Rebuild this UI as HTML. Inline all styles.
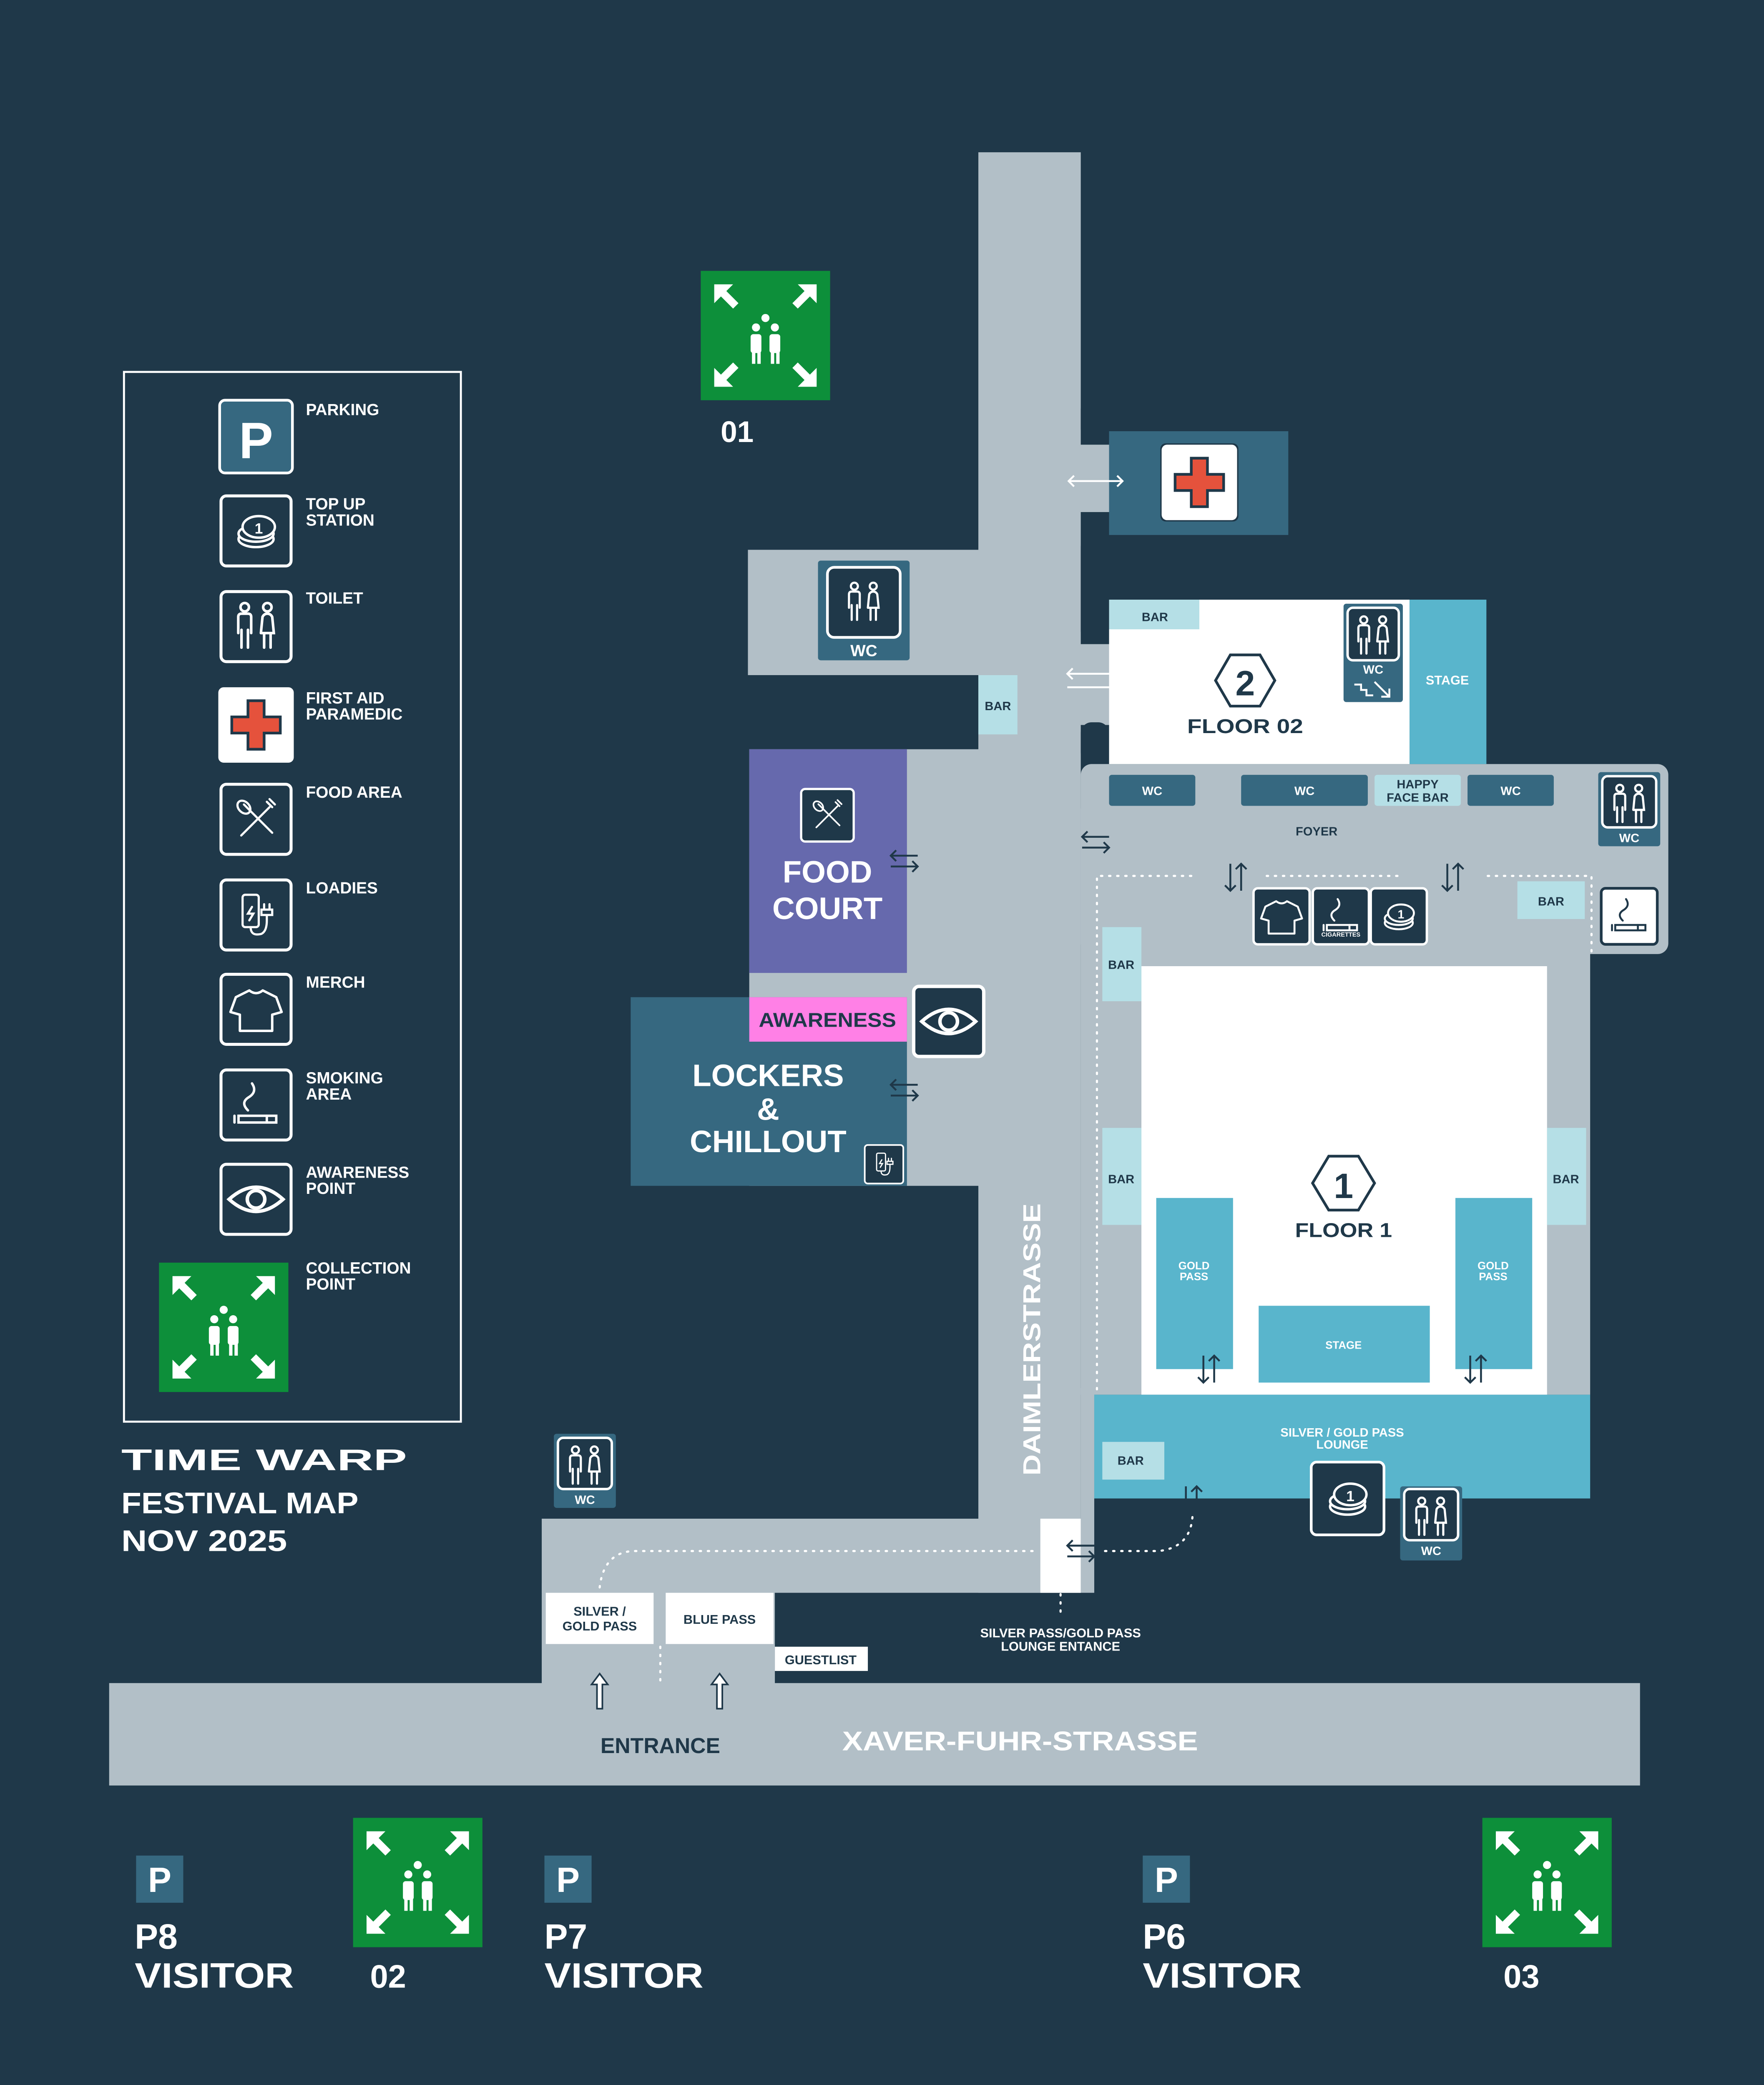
<!DOCTYPE html>
<html><head><meta charset="utf-8"><style>
html,body{margin:0;padding:0;background:#1f3849;width:4230px;height:5068px;overflow:hidden;}
svg{display:block;position:absolute;left:0;top:0;width:4230px;height:5068px}
text{font-family:"Liberation Sans","DejaVu Sans",sans-serif;font-weight:bold;}
</style></head><body>
<svg width="4230" height="5068" viewBox="0 0 1309 1568.3" preserveAspectRatio="none" xmlns="http://www.w3.org/2000/svg">
<defs>
<g id="wcfig" fill="none" stroke="#fff" stroke-width="1.6" stroke-linecap="round">
  <circle cx="-7" cy="-12" r="2.6"/><circle cx="7" cy="-12" r="2.6"/>
  <path d="M-11 4 V-6 Q-11 -8 -9 -8 H-5 Q-3 -8 -3 -6 V4 M-9 2 V13 M-5 2 V13"/>
  <path d="M3 4 L4 -6 Q5 -8 7 -8 Q9 -8 10 -6 L11 4 H3 M5 4 V13 M9 4 V13"/>
</g>
<g id="coin" fill="none" stroke="#fff" stroke-width="1.8">
  <ellipse cx="0" cy="6" rx="13" ry="6"/><ellipse cx="0" cy="2" rx="13" ry="6" fill="#1f3849"/><ellipse cx="2" cy="-3" rx="12" ry="8" fill="#1f3849"/>
  <text x="2" y="2" font-size="11" fill="#fff" stroke="none" text-anchor="middle">1</text>
</g>
<g id="shirt" fill="none" stroke="#fff" stroke-width="1.8" stroke-linejoin="round">
  <path d="M-5 -14 Q0 -10 5 -14 L15 -9 L19 2 L12 4 V16 H-12 V4 L-19 2 L-15 -9 Z"/>
</g>
<g id="smoke" fill="none" stroke="#fff" stroke-width="1.8" stroke-linecap="round">
  <path d="M-6 4 Q-12 -2 -5 -6 Q1 -10 -3 -16"/>
  <rect x="-13" y="8" width="28" height="5"/><line x1="-16" y1="8" x2="-16" y2="13"/><line x1="8" y1="8" x2="8" y2="13"/>
</g>
<g id="smokeD" fill="none" stroke="#1f3849" stroke-width="1.8" stroke-linecap="round">
  <path d="M-6 4 Q-12 -2 -5 -6 Q1 -10 -3 -16"/>
  <rect x="-13" y="8" width="28" height="5"/><line x1="-16" y1="8" x2="-16" y2="13"/><line x1="8" y1="8" x2="8" y2="13"/>
</g>
<g id="eye" fill="none" stroke="#fff" stroke-width="2.6">
  <path d="M-20 0 Q0 -18 20 0 Q0 18 -20 0Z"/><circle cx="0" cy="0" r="6.5"/>
</g>
<g id="cutlery" fill="none" stroke="#fff" stroke-width="1.6" stroke-linecap="round">
  <path d="M-11 12 L10 -9 M-9 -11 L12 10"/><ellipse cx="-9" cy="-9" rx="4" ry="5.5" transform="rotate(-45 -9 -9)"/>
  <path d="M8 -13 L12 -9 M10 -15 L14 -11"/>
</g>
<g id="charger" fill="none" stroke="#fff" stroke-width="1.6" stroke-linecap="round">
  <rect x="-10" y="-15" width="12" height="24" rx="2"/><path d="M-3 -6 L-6 -1 H-2 L-5 4"/>
  <path d="M-4 9 Q-4 16 4 14 Q8 12 8 4 V0 M4 -4 H12 V0 H4 Z M6 -4 V-8 M10 -4 V-8"/>
</g>
<g id="aid">
  <rect x="-28" y="-28" width="56" height="56" rx="4" fill="#fff"/>
  <path d="M-6 -18 H6 V-6 H18 V6 H6 V18 H-6 V6 H-18 V-6 H-6Z" fill="#e5523c" stroke="#1f3849" stroke-width="2"/>
</g>
<g id="collect">
  <rect x="-48" y="-48" width="96" height="96" fill="#0d8f3a"/>
  <g fill="#fff">
    <path d="M-38 -38 L-24 -38 L-29 -33 L-20 -24 L-24 -20 L-33 -29 L-38 -24Z"/>
    <path d="M38 -38 L24 -38 L29 -33 L20 -24 L24 -20 L33 -29 L38 -24Z"/>
    <path d="M-38 38 L-24 38 L-29 33 L-20 24 L-24 20 L-33 29 L-38 24Z"/>
    <path d="M38 38 L24 38 L29 33 L20 24 L24 20 L33 29 L38 24Z"/>
    <circle cx="0" cy="-13" r="3"/><circle cx="-7" cy="-6" r="3"/><circle cx="7" cy="-6" r="3"/>
    <rect x="-11" y="-1" width="8" height="14" rx="2"/><rect x="3" y="-1" width="8" height="14" rx="2"/>
    <rect x="-10" y="12" width="2.5" height="9"/><rect x="-6" y="12" width="2.5" height="9"/>
    <rect x="4" y="12" width="2.5" height="9"/><rect x="8" y="12" width="2.5" height="9"/>
  </g>
</g>
<g id="box"><rect x="-26" y="-26" width="52" height="52" rx="4" fill="#1f3849" stroke="#fff" stroke-width="2.2"/></g>
<g id="lrarrD" fill="none" stroke="#1f3849" stroke-width="1.4"><path d="M-10 -4 H10 M-6 -8 L-10 -4 L-6 0 M-10 4 H10 M6 0 L10 4 L6 8"/></g>
<g id="udarr" fill="none" stroke="#1f3849" stroke-width="1.4"><path d="M-4 -10 V10 M-8 6 L-4 10 L0 6 M4 10 V-10 M0 -6 L4 -10 L8 -6"/></g>
</defs>

<rect width="1309" height="1568.3" fill="#1f3849"/>

<g fill="#b2bfc7">
  <rect x="726" y="113" width="76" height="1069"/>
  <rect x="555" y="408" width="175" height="93"/>
  <rect x="556" y="556" width="173" height="324" />
  <rect x="402" y="1127" width="400" height="55"/>
  <rect x="402" y="1175" width="173" height="80"/>
  <rect x="81" y="1249" width="1136" height="76"/>
  <rect x="800" y="330" width="25" height="50"/>
  <rect x="800" y="478" width="25" height="60"/>
  <rect x="802" y="567" width="436" height="141" rx="8"/>
  <rect x="802" y="600" width="378" height="435"/>
  <rect x="802" y="1030" width="10" height="152"/>
</g>
<g fill="#1f3849">
  <rect x="802" y="398" width="21" height="78" rx="8"/>
  <rect x="802" y="536" width="21" height="30" rx="8"/>
  <rect x="802" y="296" width="21" height="30" rx="8"/>
</g>
<rect x="607" y="416" width="68" height="74" rx="2" fill="#366880"/>
<rect x="614" y="421" width="54" height="52" rx="5" fill="#1f3849" stroke="#fff" stroke-width="2"/>
<use href="#wcfig" x="641" y="447"/>
<text x="641" y="487" font-size="12" fill="#fff" text-anchor="middle">WC</text>

<rect x="726" y="501" width="29" height="44" fill="#b5dfe6"/>
<text x="740.5" y="527" font-size="9" fill="#1f3849" text-anchor="middle">BAR</text>

<rect x="823" y="320" width="133" height="77" fill="#366880"/>
<rect x="861" y="329" width="58" height="58" rx="4" fill="#1f3849"/>
<use href="#aid" x="890" y="358"/>
<path d="M793 357 H833 M797 353 L793 357 L797 361 M829 353 L833 357 L829 361" stroke="#fff" stroke-width="1.4" fill="none"/>

<rect x="823" y="445" width="223" height="122" fill="#fff"/>
<rect x="1046" y="445" width="57" height="122" fill="#59b5cc"/>
<rect x="823" y="445" width="67" height="22" fill="#b5dfe6"/>
<text x="857" y="461" font-size="9" fill="#1f3849" text-anchor="middle">BAR</text>
<text x="1074" y="508" font-size="9.5" fill="#fff" text-anchor="middle">STAGE</text>
<polygon points="913,486 935,486 946,505 935,524 913,524 902,505" fill="none" stroke="#1f3849" stroke-width="2"/>
<text x="924" y="516" font-size="26" fill="#1f3849" text-anchor="middle">2</text>
<text x="924" y="544" font-size="15" fill="#1f3849" text-anchor="middle" textLength="86" lengthAdjust="spacingAndGlyphs">FLOOR 02</text>
<rect x="997" y="448" width="44" height="73" rx="2" fill="#366880"/>
<rect x="1000" y="451" width="38" height="39" rx="4" fill="#1f3849" stroke="#fff" stroke-width="1.8"/>
<use href="#wcfig" x="1019" y="472"/>
<text x="1019" y="500" font-size="9" fill="#fff" text-anchor="middle">WC</text>
<path d="M1005 508 H1010 V512 H1014 V516 H1019 M1020 506 L1031 517 M1025 517 H1031 V511" stroke="#fff" stroke-width="1.4" fill="none"/>
<path d="M792 500 H832 M792 510 H832 M828 506 L832 510 L828 514 M796 496 L792 500 L796 504" stroke="#fff" stroke-width="1.4" fill="none"/>

<g font-size="9" text-anchor="middle">
<rect x="823" y="575" width="64" height="23" rx="2" fill="#366880"/><text x="855" y="590" fill="#fff">WC</text>
<rect x="921" y="575" width="94" height="23" rx="2" fill="#366880"/><text x="968" y="590" fill="#fff">WC</text>
<rect x="1020" y="575" width="64" height="23" rx="2" fill="#b5dfe6"/><text x="1052" y="585" fill="#1f3849">HAPPY</text><text x="1052" y="595" fill="#1f3849">FACE BAR</text>
<rect x="1089" y="575" width="64" height="23" rx="2" fill="#366880"/><text x="1121" y="590" fill="#fff">WC</text>
<text x="977" y="620" fill="#1f3849">FOYER</text>
</g>
<rect x="1186" y="573" width="46" height="55" rx="2" fill="#366880"/>
<rect x="1189" y="576" width="40" height="38" rx="4" fill="#1f3849" stroke="#fff" stroke-width="1.8"/>
<use href="#wcfig" x="1209" y="597"/>
<text x="1209" y="625" font-size="9" fill="#fff" text-anchor="middle">WC</text>
<use href="#lrarrD" x="813" y="625"/>
<use href="#udarr" x="917" y="651"/>
<use href="#udarr" x="1078" y="651"/>
<g stroke="#fff" stroke-width="1.6" stroke-dasharray="1 5" stroke-linecap="round" fill="none">
  <path d="M884 650 H814 V1035"/>
  <path d="M940 650 H1040"/>
  <path d="M1104 650 H1181 V708"/>
  <path d="M445 1178 Q448 1152 470 1151 H770"/>
  <path d="M820 1151 H860 Q885 1148 885 1122"/>
  <path d="M787 1183 V1200"/>
  <path d="M490 1222 V1248"/>
</g>
<g transform="translate(951,680) scale(0.8)"><use href="#box"/><use href="#shirt"/></g>
<g transform="translate(995,680) scale(0.8)"><use href="#box"/><use href="#smoke"/></g>
<text x="995" y="695" font-size="4.5" fill="#fff" text-anchor="middle">CIGARETTES</text>
<g transform="translate(1038,680) scale(0.8)"><use href="#box"/><use href="#coin"/></g>
<rect x="1126" y="654" width="50" height="28" fill="#b5dfe6"/>
<text x="1151" y="672" font-size="9" fill="#1f3849" text-anchor="middle">BAR</text>
<g transform="translate(1209,680) scale(0.8)"><rect x="-26" y="-26" width="52" height="52" rx="4" fill="#fff" stroke="#1f3849" stroke-width="2.5"/><use href="#smokeD"/></g>

<rect x="847" y="717" width="301" height="318" fill="#fff"/>
<g font-size="9" text-anchor="middle" fill="#1f3849">
<rect x="818" y="688" width="29" height="55" fill="#b5dfe6"/><text x="832" y="719">BAR</text>
<rect x="818" y="837" width="29" height="72" fill="#b5dfe6"/><text x="832" y="878">BAR</text>
<rect x="1148" y="837" width="29" height="72" fill="#b5dfe6"/><text x="1162" y="878">BAR</text>
</g>
<rect x="858" y="889" width="57" height="127" fill="#59b5cc"/>
<rect x="1080" y="889" width="57" height="127" fill="#59b5cc"/>
<rect x="934" y="969" width="127" height="57" fill="#59b5cc"/>
<g font-size="8" fill="#fff" text-anchor="middle">
<text x="886" y="942">GOLD</text><text x="886" y="950">PASS</text>
<text x="1108" y="942">GOLD</text><text x="1108" y="950">PASS</text>
<text x="997" y="1001">STAGE</text>
</g>
<use href="#udarr" x="897" y="1016"/>
<use href="#udarr" x="1095" y="1016"/>
<polygon points="986,858 1008,858 1020,878 1008,898 986,898 974,878" fill="none" stroke="#1f3849" stroke-width="2"/>
<text x="997" y="889" font-size="26" fill="#1f3849" text-anchor="middle">1</text>
<text x="997" y="918" font-size="15" fill="#1f3849" text-anchor="middle" textLength="72" lengthAdjust="spacingAndGlyphs">FLOOR 1</text>

<rect x="812" y="1035" width="368" height="77" fill="#59b5cc"/>
<rect x="818" y="1070" width="46" height="28" fill="#b5dfe6"/>
<text x="839" y="1087" font-size="9" fill="#1f3849" text-anchor="middle">BAR</text>
<text x="996" y="1066" font-size="9" fill="#fff" text-anchor="middle">SILVER  / GOLD PASS</text>
<text x="996" y="1075" font-size="9" fill="#fff" text-anchor="middle">LOUNGE</text>
<g transform="translate(1000,1112)"><rect x="-27" y="-27" width="54" height="54" rx="4" fill="#1f3849" stroke="#fff" stroke-width="2"/><use href="#coin"/></g>
<rect x="1039" y="1103" width="46" height="55" rx="2" fill="#366880"/>
<rect x="1042" y="1105" width="40" height="38" rx="4" fill="#1f3849" stroke="#fff" stroke-width="1.8"/>
<use href="#wcfig" x="1062" y="1126"/>
<text x="1062" y="1154" font-size="9" fill="#fff" text-anchor="middle">WC</text>
<use href="#udarr" x="884" y="1113"/>

<rect x="556" y="556" width="117" height="166" fill="#6669ad"/>
<g transform="translate(614,605) scale(0.75)"><use href="#box"/><use href="#cutlery"/></g>
<text x="614" y="655" font-size="23" fill="#fff" text-anchor="middle">FOOD</text>
<text x="614" y="682" font-size="23" fill="#fff" text-anchor="middle">COURT</text>
<use href="#lrarrD" x="671" y="639"/>
<rect x="468" y="740" width="205" height="140" fill="#366880"/>
<rect x="556" y="740" width="117" height="33" fill="#ff80e6"/>
<text x="614" y="762" font-size="15" fill="#1f3849" text-anchor="middle" textLength="102" lengthAdjust="spacingAndGlyphs">AWARENESS</text>
<g transform="translate(704,758)"><rect x="-26" y="-26" width="52" height="52" rx="4" fill="#1f3849" stroke="#fff" stroke-width="2.5"/><use href="#eye"/></g>
<text x="570" y="806" font-size="23" fill="#fff" text-anchor="middle">LOCKERS</text>
<text x="570" y="831" font-size="23" fill="#fff" text-anchor="middle">&amp;</text>
<text x="570" y="855" font-size="23" fill="#fff" text-anchor="middle">CHILLOUT</text>
<use href="#lrarrD" x="671" y="809"/>
<g transform="translate(656,864) scale(0.55)"><use href="#box"/><use href="#charger"/></g>
<text transform="translate(772,1095) rotate(-90)" font-size="18" fill="#fff" textLength="202" lengthAdjust="spacingAndGlyphs">DAIMLERSTRASSE</text>

<rect x="772" y="1127" width="30" height="55" fill="#fff"/>
<use href="#lrarrD" x="802" y="1151"/>
<rect x="405" y="1182" width="80" height="38" fill="#fff"/>
<rect x="494" y="1182" width="80" height="38" fill="#fff"/>
<rect x="575" y="1222" width="69" height="18" fill="#fff"/>
<g font-size="9.5" fill="#1f3849" text-anchor="middle">
<text x="445" y="1199">SILVER /</text><text x="445" y="1210">GOLD PASS</text>
<text x="534" y="1205">BLUE PASS</text>
<text x="609" y="1235">GUESTLIST</text>
</g>
<text x="787" y="1215" font-size="9.5" fill="#fff" text-anchor="middle">SILVER PASS/GOLD PASS</text>
<text x="787" y="1225" font-size="9.5" fill="#fff" text-anchor="middle">LOUNGE ENTANCE</text>
<g fill="#fff" stroke="#1f3849" stroke-width="1.2">
<path d="M443 1268 V1250 H439 L445 1242 L451 1250 H447 V1268Z"/>
<path d="M532 1268 V1250 H528 L534 1242 L540 1250 H536 V1268Z"/>
</g>
<text x="490" y="1301" font-size="16" fill="#1f3849" text-anchor="middle">ENTRANCE</text>
<text x="757" y="1299" font-size="20" fill="#fff" text-anchor="middle" textLength="264" lengthAdjust="spacingAndGlyphs">XAVER-FUHR-STRASSE</text>

<rect x="411" y="1064" width="46" height="55" rx="2" fill="#366880"/>
<rect x="414" y="1067" width="40" height="38" rx="4" fill="#1f3849" stroke="#fff" stroke-width="1.8"/>
<use href="#wcfig" x="434" y="1088"/>
<text x="434" y="1116" font-size="9" fill="#fff" text-anchor="middle">WC</text>

<use href="#collect" x="568" y="249"/>
<text x="547" y="328" font-size="22" fill="#fff" text-anchor="middle">01</text>
<use href="#collect" x="310" y="1397"/>
<text x="288" y="1475" font-size="24" fill="#fff" text-anchor="middle">02</text>
<use href="#collect" x="1148" y="1397"/>
<text x="1129" y="1475" font-size="24" fill="#fff" text-anchor="middle">03</text>

<g font-size="26" fill="#fff">
<rect x="101" y="1377" width="35" height="35" fill="#366880"/><text x="118.5" y="1404" font-size="26" text-anchor="middle" font-weight="normal">P</text>
<rect x="404" y="1377" width="35" height="35" fill="#366880"/><text x="421.5" y="1404" font-size="26" text-anchor="middle" font-weight="normal">P</text>
<rect x="848" y="1377" width="35" height="35" fill="#366880"/><text x="865.5" y="1404" font-size="26" text-anchor="middle" font-weight="normal">P</text>
<text x="100" y="1446">P8</text><text x="100" y="1475" textLength="118" lengthAdjust="spacingAndGlyphs">VISITOR</text>
<text x="404" y="1446">P7</text><text x="404" y="1475" textLength="118" lengthAdjust="spacingAndGlyphs">VISITOR</text>
<text x="848" y="1446">P6</text><text x="848" y="1475" textLength="118" lengthAdjust="spacingAndGlyphs">VISITOR</text>
</g>

<rect x="92" y="276" width="250" height="779" fill="none" stroke="#fff" stroke-width="1.5"/>
<g font-size="12" fill="#fff">
<rect x="163" y="297" width="54" height="54" rx="4" fill="#366880" stroke="#fff" stroke-width="2"/>
<text x="190" y="340" font-size="38" text-anchor="middle" font-weight="normal">P</text>
<text x="227" y="308">PARKING</text>
<g transform="translate(190,394)"><use href="#box"/><use href="#coin"/></g>
<text x="227" y="378">TOP UP</text><text x="227" y="390">STATION</text>
<g transform="translate(190,465)"><use href="#box"/><use href="#wcfig" transform="scale(1.2)"/></g>
<text x="227" y="448">TOILET</text>
<use href="#aid" x="190" y="538"/>
<text x="227" y="522">FIRST AID</text><text x="227" y="534">PARAMEDIC</text>
<g transform="translate(190,608)"><use href="#box"/><use href="#cutlery"/></g>
<text x="227" y="592">FOOD AREA</text>
<g transform="translate(190,679)"><use href="#box"/><use href="#charger"/></g>
<text x="227" y="663">LOADIES</text>
<g transform="translate(190,749)"><use href="#box"/><use href="#shirt"/></g>
<text x="227" y="733">MERCH</text>
<g transform="translate(190,820)"><use href="#box"/><use href="#smoke"/></g>
<text x="227" y="804">SMOKING</text><text x="227" y="816">AREA</text>
<g transform="translate(190,890)"><use href="#box"/><use href="#eye"/></g>
<text x="227" y="874">AWARENESS</text><text x="227" y="886">POINT</text>
<use href="#collect" x="166" y="985"/>
<text x="227" y="945">COLLECTION</text><text x="227" y="957">POINT</text>
</g>

<text x="90" y="1091" font-size="22" fill="#fff" textLength="212" lengthAdjust="spacingAndGlyphs" style="font-weight:900">TIME WARP</text>
<text x="90" y="1123" font-size="22" fill="#fff" textLength="176" lengthAdjust="spacingAndGlyphs" font-weight="normal">FESTIVAL MAP</text>
<text x="90" y="1151" font-size="22" fill="#fff" textLength="123" lengthAdjust="spacingAndGlyphs" font-weight="normal">NOV 2025</text>
</svg>
</body></html>
